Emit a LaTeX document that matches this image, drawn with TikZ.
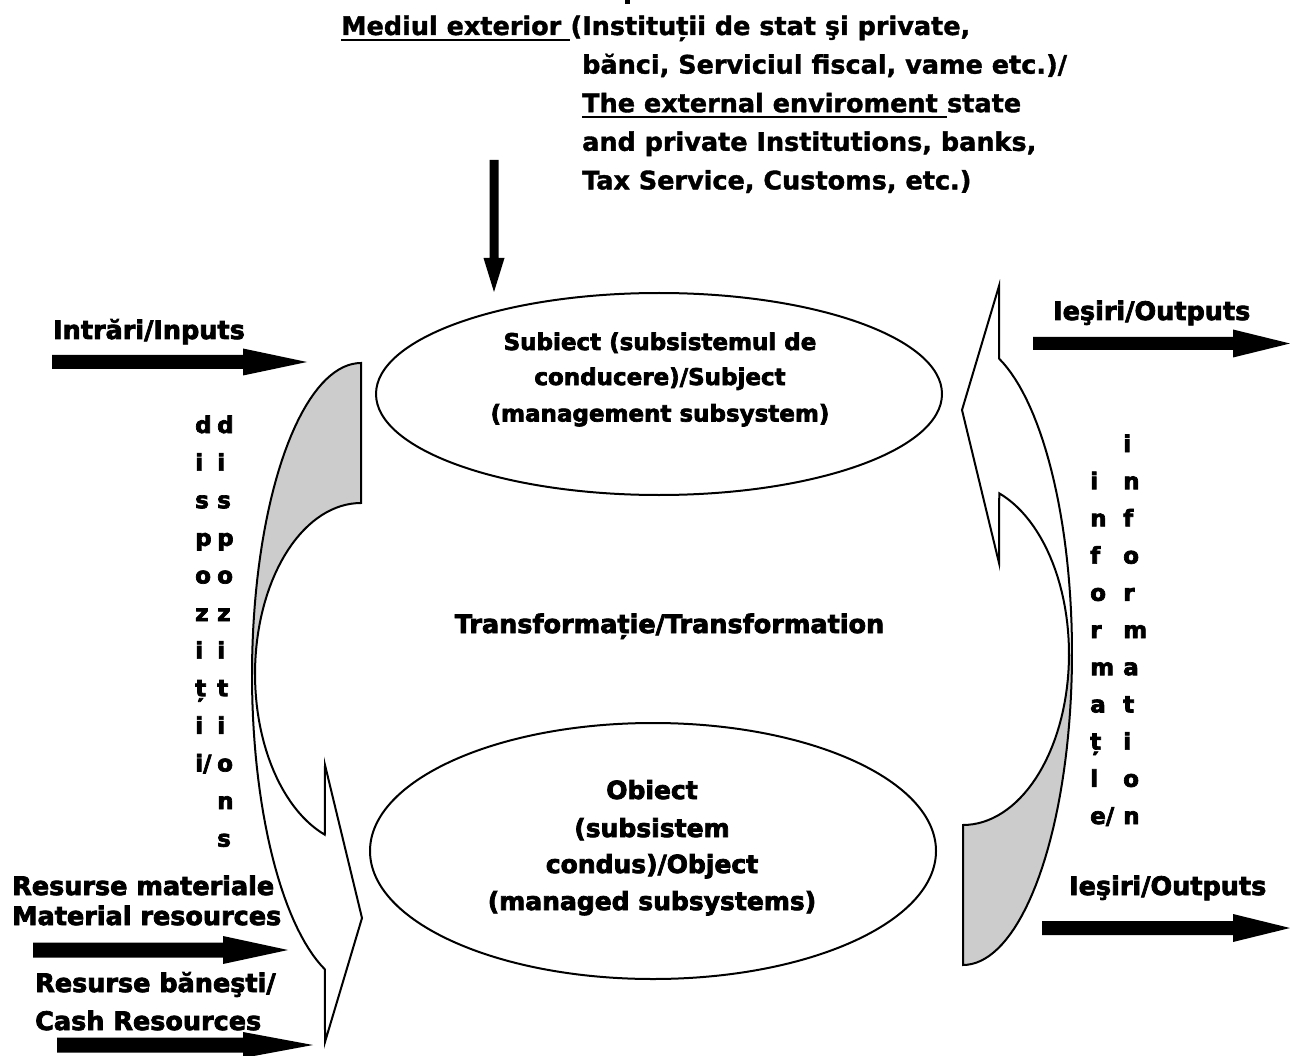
\documentclass[tikz,border=0pt]{standalone}
\usepackage{fontspec}
\setmainfont{DejaVu Sans}
\newfontfamily\heavy{DejaVu Sans Bold}[FakeBold=3]
\newfontfamily\semiheavy{DejaVu Sans Bold}[FakeBold=1.5]
\usetikzlibrary{shapes.geometric}
\definecolor{backgray}{RGB}{204,204,204}
\newcommand{\blockarr}[7]{% name, x0, xb, xt, yc, shaft half, head half
  \coordinate (#1s) at (#2,#5);
  \coordinate (#1e) at (#4,#5);
  \fill (#2,#5-#6) -- (#3,#5-#6) -- (#3,#5-#7) -- (#1e) -- (#3,#5+#7) -- (#3,#5+#6) -- (#2,#5+#6) -- cycle;}
\newcommand{\mycurvedarrow}{%
  \fill[white] plot[domain=90:250.7,samples=70] ({361+109*cos(\x)},{675-312*sin(\x)})
     -- (325,1042) -- (362,918) -- (325,765)
     -- plot[domain=250:90,samples=60] ({361+106*cos(\x)},{674-171*sin(\x)}) -- cycle;
  \fill[backgray] plot[domain=90:180,samples=40] ({361+109*cos(\x)},{675-312*sin(\x)})
     -- plot[domain=180:90,samples=40] ({361+106*cos(\x)},{674-171*sin(\x)}) -- cycle;
  \draw[shapeline] plot[domain=90:250.7,samples=70] ({361+109*cos(\x)},{675-312*sin(\x)})
     -- (325,1042) -- (362,918) -- (325,765)
     -- plot[domain=250:90,samples=60] ({361+106*cos(\x)},{674-171*sin(\x)}) -- cycle;}
\begin{document}
\begin{tikzpicture}[x=1pt,y=-1pt,line join=miter,
  shapeline/.style={draw=black,line width=2pt},
  toptxt/.style={inner sep=0pt,anchor=base west,font=\fontsize{25.5}{25.5}\semiheavy},
  txt/.style={inner sep=0pt,anchor=base west,font=\fontsize{25.5}{25.5}\heavy},
  ctxt/.style={inner sep=0pt,anchor=base,font=\fontsize{23}{23}\heavy},
  ctxtb/.style={inner sep=0pt,anchor=base,font=\fontsize{25}{25}\heavy},
  letter/.style={inner sep=0pt,anchor=base west,font=\fontsize{23}{23}\heavy},
  oval/.style={ellipse,draw=black,line width=2pt,fill=white,inner sep=0pt},
  uline/.style={line width=2pt}]
\useasboundingbox (0,0) rectangle (1290,1056);
\fill[white] (0,0) rectangle (1290,1056);

% curved arrows
\mycurvedarrow
\begin{scope}[rotate around={180:(662,664)}]
  \mycurvedarrow
\end{scope}

% ellipses
\node[oval,minimum width=566pt,minimum height=202pt] (subj) at (659,394) {};
\node[oval,minimum width=566pt,minimum height=256pt] (obj) at (653,851) {};

\node[ctxt] (s1) at (660,350) {Subiect (subsistemul de};
\node[ctxt] (s2) at (660,385) {conducere)/Subject};
\node[ctxt] (s3) at (660,421.5) {(management subsystem)};

\node[ctxtb] (o1) at (652,799) {Obiect};
\node[ctxtb] (o2) at (652,837) {(subsistem};
\node[ctxtb] (o3) at (652,873) {condus)/Object};
\node[ctxtb] (o4) at (652,910) {(managed subsystems)};

\node[ctxtb,font=\fontsize{25.5}{25.5}\heavy] (tr) at (669.5,633) {Transformație/Transformation};

% top text
\fill (625,0) rectangle (630,4);
\node[toptxt] (t1a) at (341,35) {Mediul exterior\kern0.348em};
\draw[uline] ([yshift=-5pt]t1a.base west) -- ([yshift=-5pt]t1a.base east);
\node[toptxt] (t1b) at (t1a.base east) {(Instituții de stat şi private,};
\node[toptxt] (t2) at (582,73.6) {bănci, Serviciul fiscal, vame etc.)/};
\node[toptxt] (t3a) at (582,112.2) {The external enviroment\kern0.348em};
\draw[uline] ([yshift=-5pt]t3a.base west) -- ([yshift=-5pt]t3a.base east);
\node[toptxt] (t3b) at (t3a.base east) {state};
\node[toptxt] (t4) at (582,150.8) {and private Institutions, banks,};
\node[toptxt] (t5) at (582,189.4) {Tax Service, Customs, etc.)};

% vertical arrow
\coordinate (vs) at (494,160);
\coordinate (ve) at (494,292);
\fill (489.5,160) -- (498.5,160) -- (498.5,258) -- (504.5,258) -- (ve) -- (483.5,258) -- (489.5,258) -- cycle;

% inputs
\node[txt] (in) at (53,339) {Intrări/Inputs};
\blockarr{ai}{52}{243}{307}{362}{7}{13.5}

% outputs
\node[txt] (out1) at (1053,320) {Ieşiri/Outputs};
\blockarr{ao1}{1033}{1233}{1290}{343.5}{6.5}{14}
\node[txt] (out2) at (1069,895) {Ieşiri/Outputs};
\blockarr{ao2}{1042}{1233}{1290}{928}{7}{14}

% resources
\node[txt] (rm1) at (12,895) {Resurse materiale};
\node[txt] (rm2) at (12,925) {Material resources};
\blockarr{am}{33}{223}{288}{950}{7.5}{14}
\node[txt] (rb1) at (35,992) {Resurse băneşti/};
\node[txt] (rb2) at (35,1030) {Cash Resources};
\blockarr{ac}{57}{243}{313}{1045}{7.5}{13}

% vertical words
\foreach \ch [count=\i from 0] in {d,i,s,p,o,z,i,ț,i,i/}
  \node[letter] (dl\i) at (195,433+37.6*\i) {\ch};
\foreach \ch [count=\i from 0] in {d,i,s,p,o,z,i,t,i,o,n,s}
  \node[letter] (dr\i) at (217,433+37.6*\i) {\ch};
\foreach \ch [count=\i from 0] in {i,n,f,o,r,m,a,ț,l,e/}
  \node[letter] (il\i) at (1090,489.2+37.2*\i) {\ch};
\foreach \ch [count=\i from 0] in {i,n,f,o,r,m,a,t,i,o,n}
  \node[letter] (ir\i) at (1123,452+37.2*\i) {\ch};
\end{tikzpicture}
\end{document}
